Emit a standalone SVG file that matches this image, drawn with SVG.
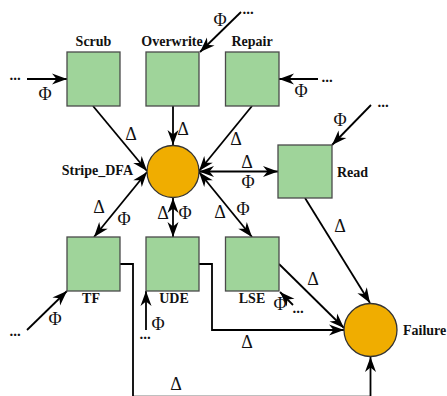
<svg xmlns="http://www.w3.org/2000/svg" width="447" height="396" viewBox="0 0 447 396">
  <style>
    .box { fill: #9fd49a; stroke: #4a4a4a; stroke-width: 1.3; }
    .state { fill: #f0ad00; stroke: #333; stroke-width: 1.3; }
    .lbl { font-family: "Liberation Serif", "Times New Roman", serif; font-weight: bold; font-size: 14px; fill: #111; }
    .sym { font-family: "Liberation Serif", "Times New Roman", serif; font-size: 18px; fill: #111; text-anchor: middle; }
    .dots { font-family: "Liberation Serif", "Times New Roman", serif; font-weight: bold; font-size: 15px; fill: #111; text-anchor: middle; }
    .edge { fill: none; stroke: #000; stroke-width: 1.8; }
    .one { marker-end: url(#head); }
    .two { marker-start: url(#head); marker-end: url(#head); }
  </style>
  <defs>
    <marker id="head" viewBox="0 0 15 11" refX="15" refY="5.5" markerWidth="15" markerHeight="11" markerUnits="userSpaceOnUse" orient="auto-start-reverse" overflow="visible">
      <path d="M15,5.5 L0,0 L4.5,5.5 L0,11 Z" fill="#000"/>
    </marker>
  </defs>

  <!-- connectors -->
  <g id="connectors">
    <!-- into Stripe_DFA -->
    <path class="edge one" d="M93,106 L147,171"/>
    <path class="edge one" d="M173,106 L173,145"/>
    <path class="edge one" d="M252,106 L199,171"/>
    <!-- two-way links -->
    <path class="edge two" d="M199,171.5 L278,171.5"/>
    <path class="edge two" d="M147,172 L94,237"/>
    <path class="edge two" d="M173,198 L173,237"/>
    <path class="edge two" d="M199,172 L252,237"/>
    <!-- into Failure -->
    <path class="edge one" d="M305,198 L370,303"/>
    <path class="edge one" d="M279,264 L344,328"/>
    <path class="edge one" d="M199,264 H212 V330 H344"/>
    <path class="edge one" d="M120,264 H133 V396.6 H370.5 V357"/>
    <!-- external inputs -->
    <path class="edge one" d="M27,79 L67,79"/>
    <path class="edge one" d="M241,12 L200,52"/>
    <path class="edge one" d="M318,79 L279,79"/>
    <path class="edge one" d="M371,105 L332,145"/>
    <path class="edge one" d="M27,330 L67,291"/>
    <path class="edge one" d="M146,330 L146,291"/>
    <path class="edge one" d="M293,305 L280,292"/>

    <!-- edge labels -->
    <text class="sym" x="131" y="140">Δ</text>
    <text class="sym" x="183" y="135">Δ</text>
    <text class="sym" x="236" y="145">Δ</text>
    <text class="sym" x="247" y="168">Δ</text>
    <text class="sym" x="248" y="188">Φ</text>
    <text class="sym" x="99" y="213">Δ</text>
    <text class="sym" x="124" y="225">Φ</text>
    <text class="sym" x="163" y="219">Δ</text>
    <text class="sym" x="185" y="219">Φ</text>
    <text class="sym" x="220" y="218">Δ</text>
    <text class="sym" x="243" y="215">Φ</text>
    <text class="sym" x="340" y="232">Δ</text>
    <text class="sym" x="313" y="285">Δ</text>
    <text class="sym" x="247" y="348">Δ</text>
    <text class="sym" x="176" y="390">Δ</text>

    <!-- input labels -->
    <text class="sym" x="45" y="100">Φ</text>
    <text class="dots" x="15" y="80">...</text>
    <text class="sym" x="220" y="26">Φ</text>
    <text class="dots" x="248" y="14">...</text>
    <text class="sym" x="301" y="97">Φ</text>
    <text class="dots" x="327" y="82">...</text>
    <text class="sym" x="340" y="126">Φ</text>
    <text class="dots" x="383" y="107">...</text>
    <text class="sym" x="55" y="325">Φ</text>
    <text class="dots" x="15" y="336">...</text>
    <text class="sym" x="158" y="330">Φ</text>
    <text class="dots" x="145" y="339">...</text>
    <text class="sym" x="280" y="310">Φ</text>
    <text class="dots" x="298" y="313">...</text>
  </g>

  <!-- nodes -->
  <g id="scrub">
    <rect class="box" x="67" y="52" width="53" height="54"/>
    <text class="lbl" x="93.5" y="46" text-anchor="middle">Scrub</text>
  </g>
  <g id="overwrite">
    <rect class="box" x="146" y="52" width="53" height="54"/>
    <text class="lbl" x="172" y="46" text-anchor="middle">Overwrite</text>
  </g>
  <g id="repair">
    <rect class="box" x="225.5" y="52" width="53.5" height="54"/>
    <text class="lbl" x="252" y="46" text-anchor="middle">Repair</text>
  </g>
  <g id="stripe_dfa">
    <circle class="state" cx="173" cy="171.5" r="26"/>
    <text class="lbl" x="133" y="175" text-anchor="end">Stripe_DFA</text>
  </g>
  <g id="read">
    <rect class="box" x="278" y="145" width="54" height="53"/>
    <text class="lbl" x="337" y="177">Read</text>
  </g>
  <g id="tf">
    <rect class="box" x="67" y="237" width="53" height="54"/>
    <text class="lbl" x="91" y="303" text-anchor="middle">TF</text>
  </g>
  <g id="ude">
    <rect class="box" x="146" y="237" width="53" height="54"/>
    <text class="lbl" x="174" y="303" text-anchor="middle">UDE</text>
  </g>
  <g id="lse">
    <rect class="box" x="225.5" y="237" width="53.5" height="54"/>
    <text class="lbl" x="252" y="303" text-anchor="middle">LSE</text>
  </g>
  <g id="failure">
    <circle class="state" cx="370.5" cy="330" r="26.5"/>
    <text class="lbl" x="403" y="335">Failure</text>
  </g>
</svg>
